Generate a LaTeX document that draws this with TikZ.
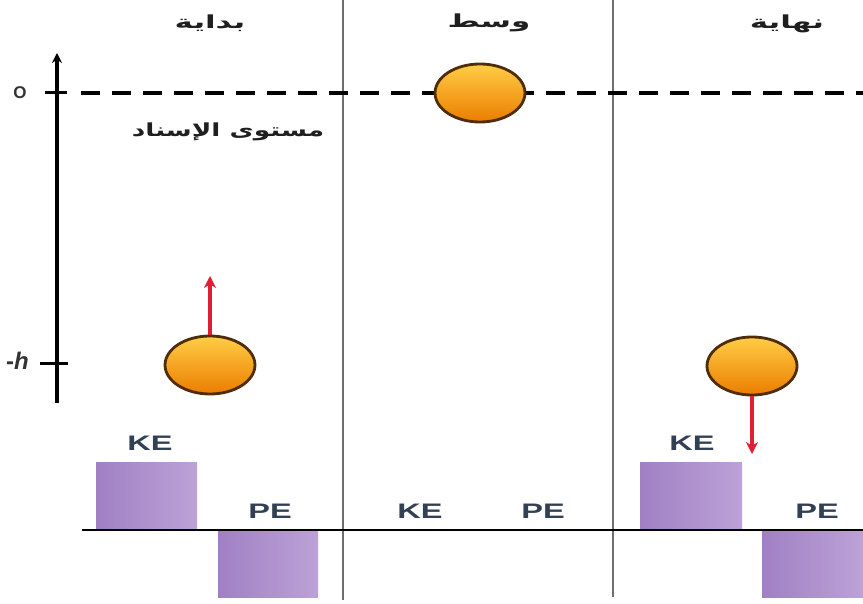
\documentclass[tikz,border=0pt]{standalone}
\usepackage{fontspec}
\setmainfont{Liberation Sans}
\TeXXeTstate=1
\newfontfamily\arabicfont[Script=Arabic]{DejaVu Sans}
\usetikzlibrary{shapes.geometric,arrows.meta}
\definecolor{divgray}{RGB}{110,110,110}
\definecolor{ballline}{RGB}{80,45,10}
\definecolor{balltop}{RGB}{255,205,70}
\definecolor{ballbot}{RGB}{235,125,0}
\definecolor{barleft}{RGB}{160,128,196}
\definecolor{barright}{RGB}{188,162,214}
\definecolor{labcol}{RGB}{50,64,84}
\definecolor{arrred}{RGB}{225,30,50}
\begin{document}
\begin{tikzpicture}[x=1pt,y=-1pt,
  divider/.style={draw=divgray,line width=2.2pt},
  ball/.style={ellipse,draw=ballline,line width=2.8pt,top color=balltop,bottom color=ballbot,
    minimum width=90pt,minimum height=58pt,inner sep=0pt},
  energybar/.style={left color=barleft,right color=barright,draw=none},
  elabel/.style={font=\bfseries\fontsize{21}{21}\selectfont,text=labcol,xscale=1.55,inner sep=0pt},
  title/.style={font=\arabicfont\bfseries\fontsize{18}{18}\selectfont,text=black!88,inner sep=0pt,xscale=1.72},
  velarrow/.style={draw=arrred,line width=4pt,-{Stealth[length=12pt,width=12pt]}},
  tick/.style={line width=3pt}
]
\useasboundingbox (0,0) rectangle (863,604);

% dividers
\draw[divider] (343,0) -- (343,600);
\draw[divider] (613,0) -- (613,597);

% titles
\node[title] (t1) at (210,23) {\beginR بداية\endR};
\node[title] (t2) at (489,23) {\beginR وسط\endR};
\node[title] (t3) at (787,24) {\beginR نهاية\endR};
\node[title,xscale=0.85] (ref) at (228,132) {\beginR مستوى الإسناد\endR};

% axis
\coordinate (axb) at (57,403);
\coordinate (axt) at (57,53);
\draw[line width=3.4pt,-{Stealth[length=10pt,width=10pt]}] (axb) -- (axt);
\draw[tick] (45,93) -- (67,93);
\draw[tick] (40,364) -- (68,364);
\node[font=\bfseries\fontsize{17}{17}\selectfont,text=black!80,inner sep=0pt] (olab) at (20,93) {O};
\node[font=\bfseries\fontsize{24}{24}\selectfont,text=black!80,inner sep=0pt,anchor=east] (hlab) at (29,361) {-\textit{h}};

% reference dashed line
\draw[line width=4.6pt,dash pattern=on 19pt off 12pt] (81,93) -- (863,93);

% baseline
\draw[line width=2.8pt] (82,530) -- (863,530);

% bars
\fill[energybar] (96,462) rectangle (197,528.6);
\fill[energybar] (218,531.4) rectangle (318,597);
\fill[energybar] (640,462) rectangle (742,528.6);
\fill[energybar] (762,531.4) rectangle (863,597);

% energy labels
\node[elabel] (ke1) at (150,443) {KE};
\node[elabel] (pe1) at (270,511) {PE};
\node[elabel] (ke2) at (420,511) {KE};
\node[elabel] (pe2) at (543,511) {PE};
\node[elabel] (ke3) at (692,443) {KE};
\node[elabel] (pe3) at (817,511) {PE};

% balls
\node[ball] (b1) at (210,365) {};
\node[ball] (b2) at (480,93) {};
\node[ball] (b3) at (752,366) {};

% velocity arrows
\coordinate (v1) at (210,276);
\coordinate (v3) at (752,454);
\draw[velarrow] (b1.north) -- (v1);
\draw[velarrow] (b3.south) -- (v3);
\end{tikzpicture}
\end{document}
